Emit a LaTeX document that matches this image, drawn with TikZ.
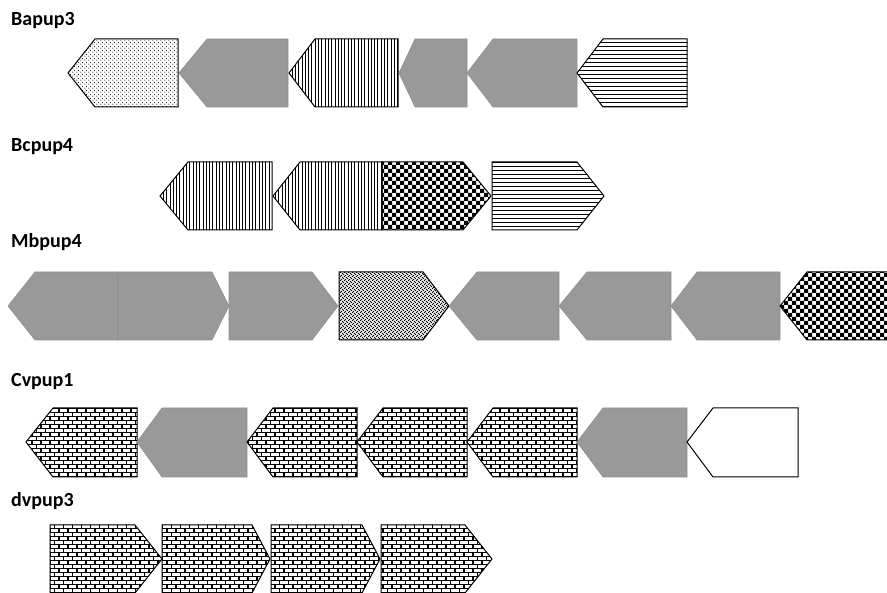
\documentclass[tikz,border=0pt]{standalone}
\usepackage{fontspec}
\setmainfont{Carlito}
\usetikzlibrary{patterns}
\usepackage{xcolor}
\definecolor{GeneGrey}{HTML}{999999}
\definecolor{GeneEdge}{HTML}{8E8E8E}

% fill patterns for the gene arrows
\pgfdeclarepatternformonly{genedots}{\pgfpointorigin}{\pgfqpoint{4pt}{4pt}}{\pgfqpoint{4pt}{4pt}}{
	\pgfpathcircle{\pgfqpoint{1pt}{1pt}}{0.65pt}
	\pgfpathcircle{\pgfqpoint{3pt}{3pt}}{0.65pt}
	\pgfusepath{fill}}
\pgfdeclarepatternformonly{genevlines}{\pgfqpoint{0pt}{-1pt}}{\pgfqpoint{3.3pt}{4.3pt}}{\pgfqpoint{3.3pt}{3.3pt}}{
	\pgfsetlinewidth{0.9pt}
	\pgfpathmoveto{\pgfqpoint{1.65pt}{-1pt}}
	\pgfpathlineto{\pgfqpoint{1.65pt}{4.3pt}}
	\pgfusepath{stroke}}
\pgfdeclarepatternformonly{genehlines}{\pgfqpoint{-1pt}{0pt}}{\pgfqpoint{5pt}{4pt}}{\pgfqpoint{4pt}{4pt}}{
	\pgfsetlinewidth{1pt}
	\pgfpathmoveto{\pgfqpoint{-1pt}{2pt}}
	\pgfpathlineto{\pgfqpoint{5pt}{2pt}}
	\pgfusepath{stroke}}
\pgfdeclarepatternformonly{genechecker}{\pgfpointorigin}{\pgfqpoint{8.2pt}{8.2pt}}{\pgfqpoint{8pt}{8pt}}{
	\pgfpathrectangle{\pgfpointorigin}{\pgfqpoint{4.2pt}{4.2pt}}
	\pgfpathrectangle{\pgfqpoint{4pt}{4pt}}{\pgfqpoint{4.2pt}{4.2pt}}
	\pgfusepath{fill}}
\pgfdeclarepatternformonly{genespeckle}{\pgfqpoint{-0.5pt}{-0.5pt}}{\pgfqpoint{4.5pt}{4.5pt}}{\pgfqpoint{4pt}{4pt}}{
	\pgfsetlinewidth{1pt}
	\pgfpathmoveto{\pgfqpoint{0.1pt}{0.1pt}}
	\pgfpathlineto{\pgfqpoint{1.9pt}{1.9pt}}
	\pgfpathmoveto{\pgfqpoint{2.1pt}{3.9pt}}
	\pgfpathlineto{\pgfqpoint{3.9pt}{2.1pt}}
	\pgfusepath{stroke}}
\pgfdeclarepatternformonly{genebricks}{\pgfqpoint{-1pt}{-1pt}}{\pgfqpoint{10pt}{9pt}}{\pgfqpoint{9pt}{8pt}}{
	\pgfsetlinewidth{1.7pt}
	\pgfpathmoveto{\pgfqpoint{-1pt}{0.5pt}}
	\pgfpathlineto{\pgfqpoint{10pt}{0.5pt}}
	\pgfpathmoveto{\pgfqpoint{-1pt}{4.5pt}}
	\pgfpathlineto{\pgfqpoint{10pt}{4.5pt}}
	\pgfpathmoveto{\pgfqpoint{0.5pt}{0.5pt}}
	\pgfpathlineto{\pgfqpoint{0.5pt}{4.5pt}}
	\pgfpathmoveto{\pgfqpoint{5pt}{4.5pt}}
	\pgfpathlineto{\pgfqpoint{5pt}{9pt}}
	\pgfpathmoveto{\pgfqpoint{5pt}{-1pt}}
	\pgfpathlineto{\pgfqpoint{5pt}{0.5pt}}
	\pgfusepath{stroke}}

\begin{document}
\begin{tikzpicture}[
	x=1pt, y=-1pt,
	lab/.style={
		anchor=base west,
		inner sep=0pt,
		font=\fontsize{20}{24}\selectfont\bfseries
	},
	greygene/.style={fill=GeneGrey, draw=GeneEdge, line width=0.6pt},
	dotgene/.style={draw=black, line width=1pt, pattern=genedots},
	vlinegene/.style={draw=black, line width=1pt, pattern=genevlines},
	hlinegene/.style={draw=black, line width=1pt, pattern=genehlines},
	checkgene/.style={draw=black, line width=1pt, pattern=genechecker},
	specklegene/.style={draw=black, line width=1pt, pattern=genespeckle},
	brickgene/.style={draw=black, line width=1pt, pattern=genebricks},
	whitegene/.style={draw=black, line width=1pt, fill=white}
	]
	
	\useasboundingbox (0,0) rectangle (887,593);
	\clip (0,0) rectangle (887,593);
	
	% cluster names
	\node[lab] (nBapup3) at (11,26) {Bapup3};
	\node[lab] (nBcpup4) at (11,152) {Bcpup4};
	\node[lab] (nMbpup4) at (11,248) {Mbpup4};
	\node[lab] (nCvpup1) at (11,387) {Cvpup1};
	\node[lab] (ndvpup3) at (11,507) {dvpup3};
	
	% genes: style / tip / shoulder / flat end
	\foreach \g/\t/\b/\e in {dotgene/68/95/178, greygene/179/207/288,
		vlinegene/289/315/398, greygene/399/415/467,
		greygene/467/493/577, hlinegene/577/603/687}
	\draw[\g] (\t,73) -- (\b,39) -- (\e,39) -- (\e,107) -- (\b,107) -- cycle;
	
	\foreach \g/\t/\b/\e in {vlinegene/160/188/272, vlinegene/273/300/382,
		checkgene/491/463/382, hlinegene/604/577/492}
	\draw[\g] (\t,196) -- (\b,162) -- (\e,162) -- (\e,230) -- (\b,230) -- cycle;
	
	\foreach \g/\t/\b/\e in {greygene/8/35/118, greygene/229/212/118,
		greygene/338/312/229, specklegene/449/423/339,
		greygene/449/477/559, greygene/559/587/671,
		greygene/671/697/780, checkgene/780/807/900}
	\draw[\g] (\t,306) -- (\b,272) -- (\e,272) -- (\e,340) -- (\b,340) -- cycle;
	
	\foreach \g/\t/\b/\e in {brickgene/26/53/137, greygene/137/162/247,
		brickgene/247/273/357, brickgene/357/383/467,
		brickgene/467/493/577, greygene/577/603/687,
		whitegene/687/713/798}
	\draw[\g] (\t,442) -- (\b,408) -- (\e,408) -- (\e,477) -- (\b,477) -- cycle;
	
	\foreach \g/\t/\b/\e in {brickgene/162/135/50, brickgene/270/252/162,
		brickgene/380/362/271, brickgene/492/465/381}
	\draw[\g] (\t,559) -- (\b,525) -- (\e,525) -- (\e,593) -- (\b,593) -- cycle;
	
\end{tikzpicture}
\end{document}
